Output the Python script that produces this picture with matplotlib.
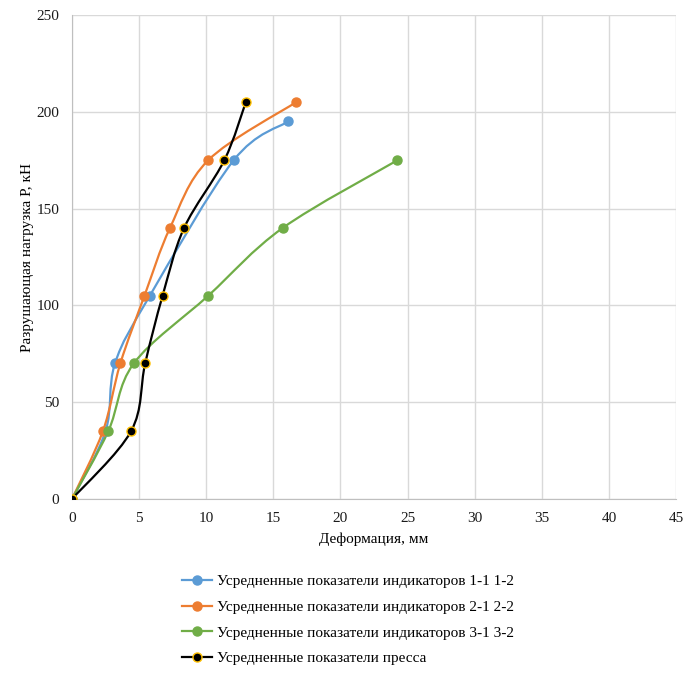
import numpy as np
import matplotlib
matplotlib.use('Agg')
import matplotlib.pyplot as plt
from matplotlib.path import Path
from matplotlib.patches import PathPatch
from matplotlib.lines import Line2D

plt.rcParams['font.family'] = ['Liberation Serif', 'DejaVu Serif']

# Load levels, kN
p_1 = [0, 35, 70, 105, 175, 195]
p_2 = [0, 35, 70, 105, 140, 175, 205]
p_3 = [0, 35, 70, 105, 140, 175]
p_press = [0, 35, 70, 105, 140, 175, 205]

# Deformation, mm
d_1 = [0, 2.5, 3.2, 5.8, 12.05, 16.1]
d_2 = [0, 2.3, 3.6, 5.4, 7.3, 10.15, 16.7]
d_3 = [0, 2.7, 4.6, 10.15, 15.7, 24.25]
d_press = [0, 4.4, 5.45, 6.75, 8.35, 11.35, 12.95]

labels = ['Усредненные показатели индикаторов 1-1 1-2',
          'Усредненные показатели индикаторов 2-1 2-2',
          'Усредненные показатели индикаторов 3-1 3-2',
          'Усредненные показатели пресса']


def smooth_path(x, y):
    '''Excel-like smoothed line: cubic Bezier through the points'''
    pts = np.column_stack([x, y]).astype(float)
    n = len(pts)
    verts = [pts[0]]
    codes = [Path.MOVETO]
    for i in range(n - 1):
        p0 = pts[max(i - 1, 0)]
        p1 = pts[i]
        p2 = pts[i + 1]
        p3 = pts[min(i + 2, n - 1)]
        c1 = p1 + (p2 - p0) / 6.0
        c2 = p2 - (p3 - p1) / 6.0
        verts += [c1, c2, p2]
        codes += [Path.CURVE4] * 3
    return Path(verts, codes)


fig = plt.figure(figsize=(6.98, 6.75), dpi=100)
ax = fig.add_axes([72 / 698, 1 - 499 / 675, 604 / 698, 484 / 675])

series = [(d_1, p_1, '#5B9BD5', '#5B9BD5'),
          (d_2, p_2, '#ED7D31', '#ED7D31'),
          (d_3, p_3, '#70AD47', '#70AD47'),
          (d_press, p_press, 'black', '#FFC000')]

handles = []
for (x, y, col, edge), lab in zip(series, labels):
    ax.add_patch(PathPatch(smooth_path(x, y), facecolor='none', edgecolor=col,
                           lw=1.6, zorder=3))
    ax.plot(x, y, 'o', color=col, mec=edge, mew=1, ms=6.5, zorder=4)
    handles.append(Line2D([], [], color=col, lw=1.6, marker='o', ms=6.5,
                          mec=edge, mew=1))

ax.set_xlim(0, 45)
ax.set_ylim(0, 250)
ax.set_xticks(np.arange(0, 46, 5))
ax.set_yticks(np.arange(0, 251, 50))
ax.grid(True, color='#D9D9D9', lw=1)
ax.set_axisbelow(True)
for s in ['top', 'right']:
    ax.spines[s].set_visible(False)
for s in ['left', 'bottom']:
    ax.spines[s].set_color('#BFBFBF')
ax.tick_params(length=0, labelsize=11, colors='#1a1a1a', pad=9)
ax.set_xlabel('Деформация, мм', fontsize=11, labelpad=6)
ax.set_ylabel('Разрушающая нагрузка Р, кН', fontsize=11, labelpad=2)

fig.legend(handles=handles, labels=labels, loc='upper left',
           bbox_to_anchor=(168 / 698, 1 - 561 / 675), frameon=False,
           fontsize=11, handlelength=2.0, labelspacing=0.78, handletextpad=0.3)

fig.savefig('out.png', dpi=100)
